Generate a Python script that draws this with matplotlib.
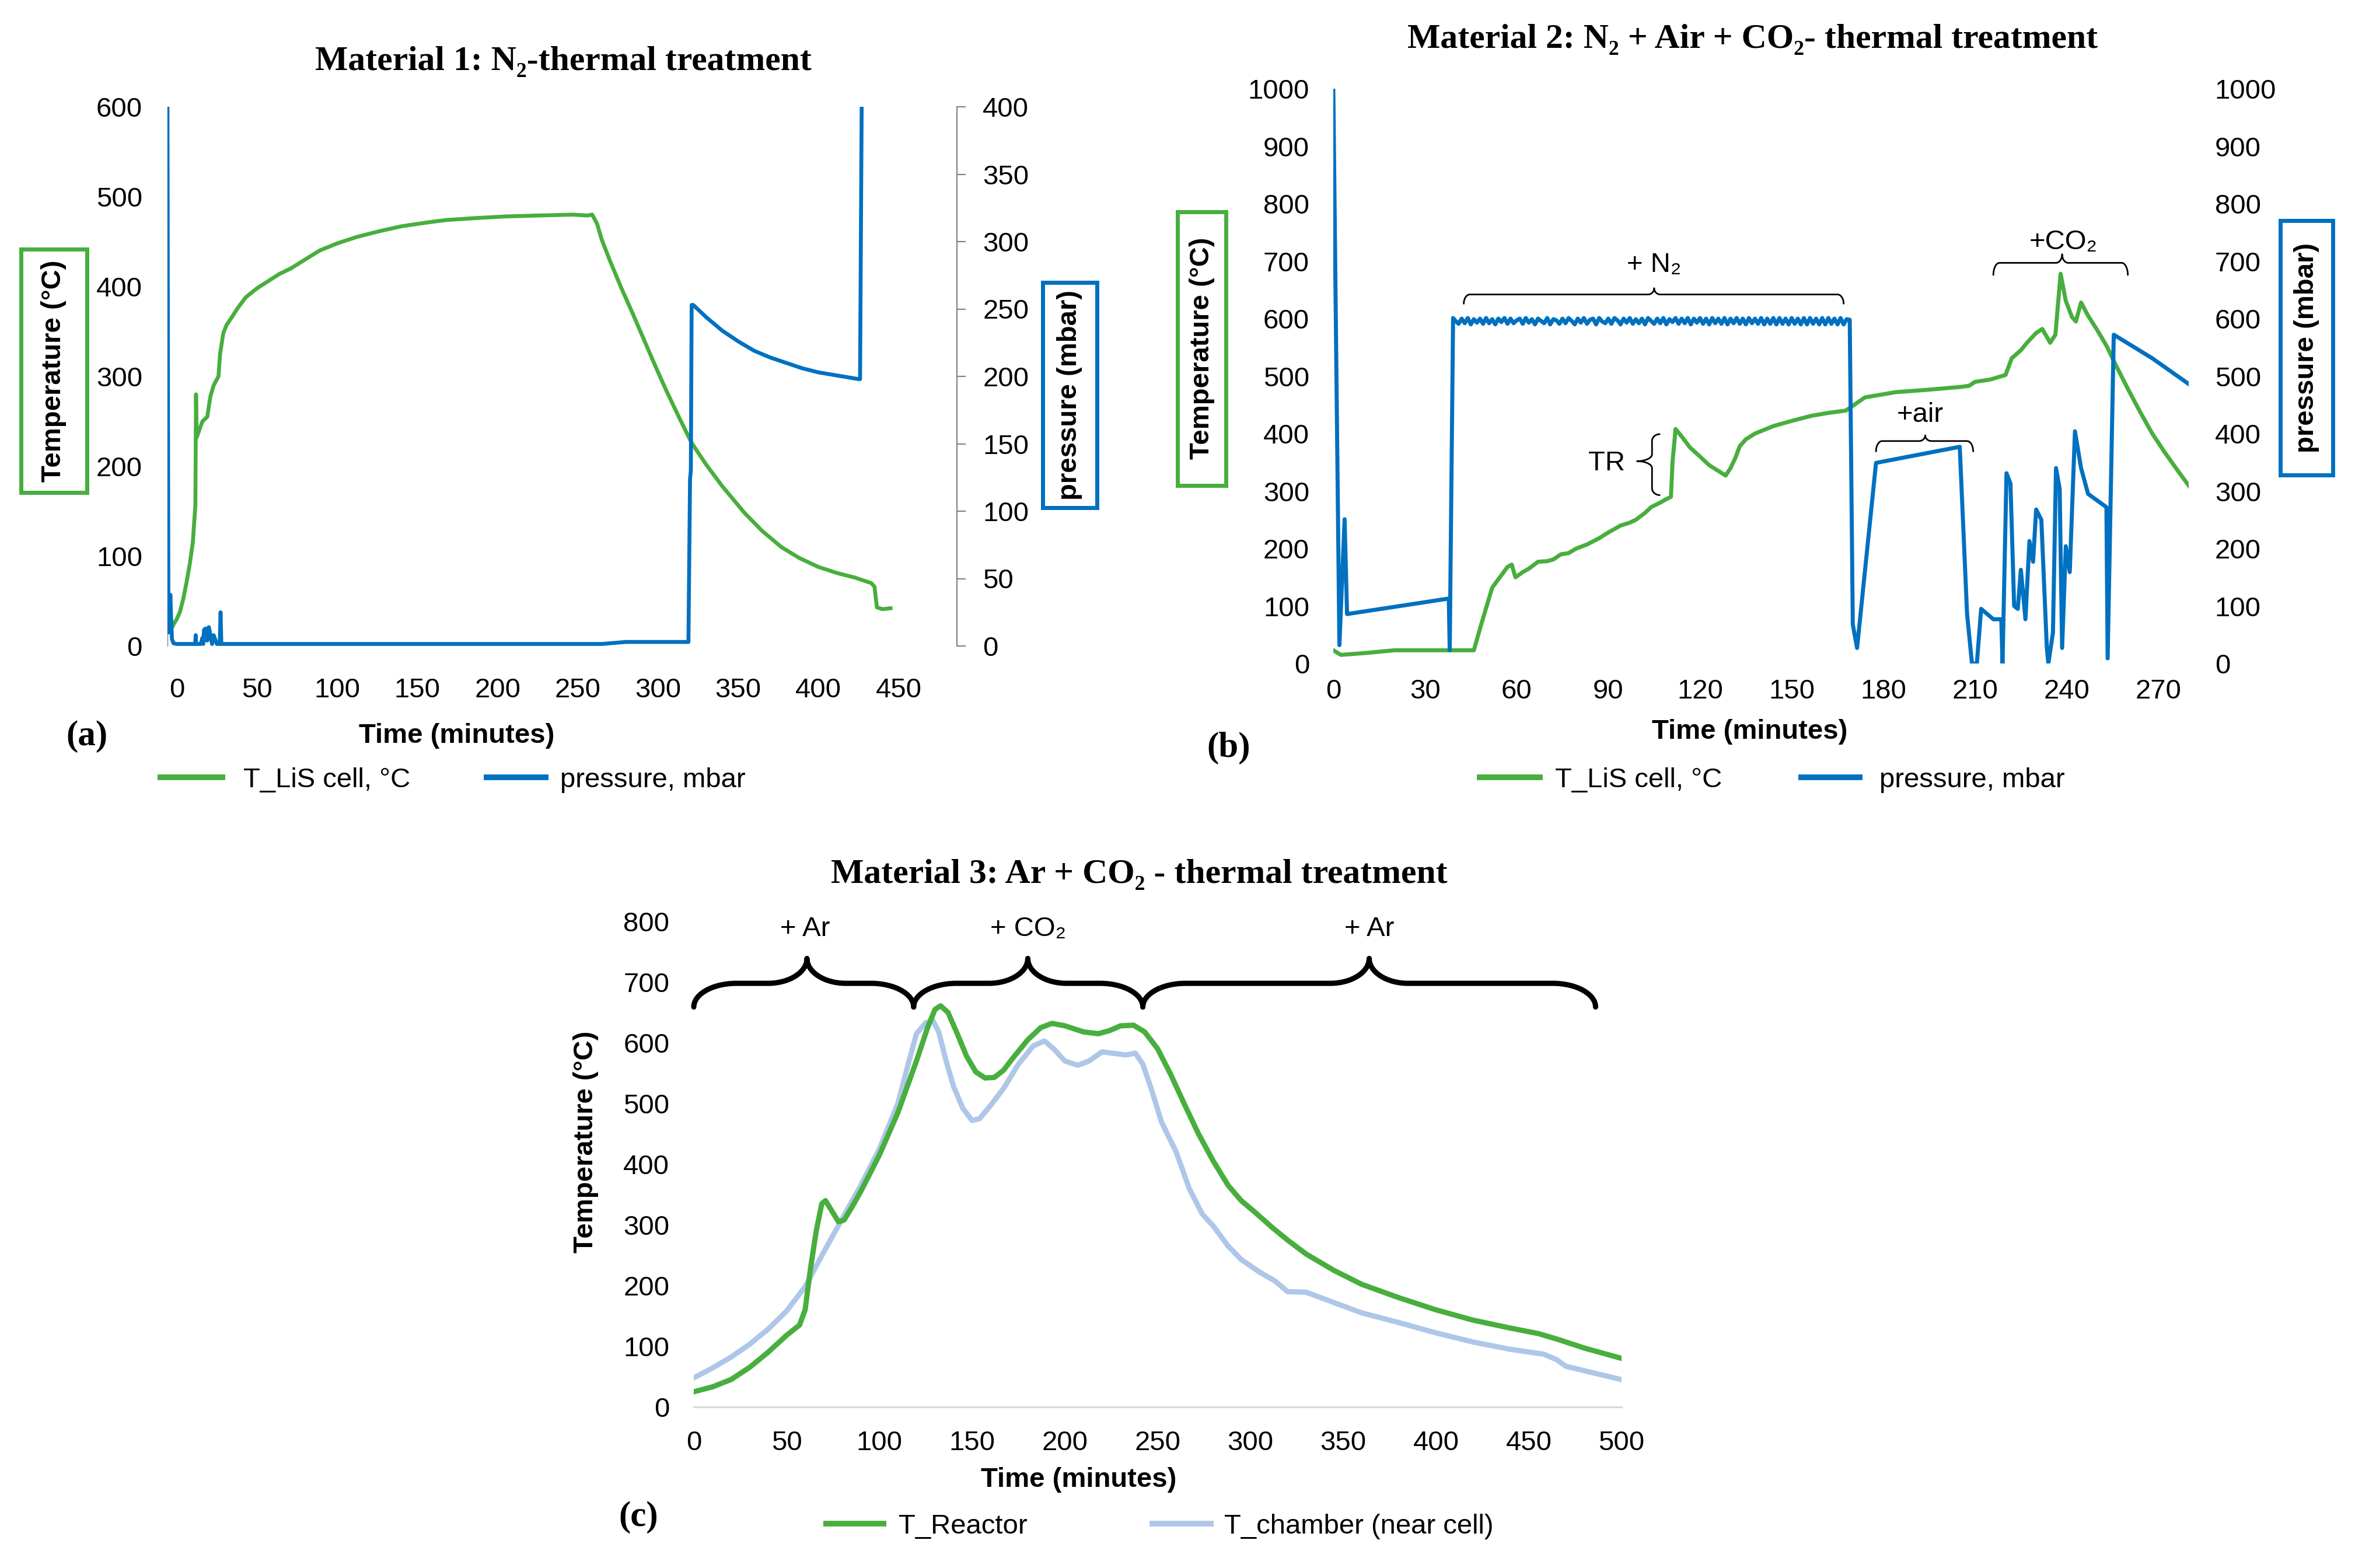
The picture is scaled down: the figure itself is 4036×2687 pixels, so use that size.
import matplotlib
matplotlib.use('Agg')
import matplotlib.pyplot as plt
from matplotlib.path import Path
from matplotlib.patches import PathPatch, Rectangle
from matplotlib.lines import Line2D

# ---------------- data ----------------
# Panel (a): Material 1
a_time_T = [-5.8, -4, -2, 0, 2, 4, 6, 8, 10, 11.6, 12.0, 12.4, 16, 19, 21, 23, 26, 27, 29, 31, 34, 38,
            43, 50, 57, 64, 71, 80, 89, 100, 112, 125, 140, 155, 168, 185, 205, 225, 247, 256, 259,
            262, 265, 270, 277, 284, 291, 298, 305, 313, 321, 330, 340, 354, 365, 377, 388, 400, 412,
            423, 433, 435, 436.5, 440, 445]
a_temp = [24, 17, 24, 30, 38, 52, 70, 90, 115, 157, 280, 232, 250, 255, 278, 290, 300, 325, 348, 357,
          365, 376, 388, 398, 406, 414, 420, 430, 440, 448, 455, 461, 467, 471, 474, 476, 478, 479,
          480, 479, 480, 470, 452, 429, 399, 371, 342, 313, 285, 255, 226, 202, 178, 148, 128, 110,
          98, 88, 81, 76, 70, 66, 43, 41, 42]
a_time_p = [-5.8, -5.5, -5.2, -4.5, -4.0, -3.5, -3.0, -2.0, 0, 5, 11.5, 11.8, 12.1, 15, 16, 16.5, 17,
            18, 19, 20, 21, 22, 23, 25, 26.8, 27.3, 27.8, 30, 60, 100, 150, 200, 250, 265, 280, 300,
            319, 320, 320.5, 321, 322, 330, 340, 350, 360, 370, 380, 390, 400, 410, 420, 425, 426, 427]
a_pres = [400, 200, 10, 12, 38, 20, 5, 2, 1.5, 1.5, 1.5, 8, 1.5, 1.5, 6, 1.5, 12,
          13, 4, 14, 8, 1.5, 8, 1.5, 1.5, 25, 1.5, 1.5, 1.5, 1.5, 1.5, 1.5, 1.5, 1.5, 3, 3,
          3, 124, 130, 253, 253, 244, 234, 226, 219, 214, 210, 206, 203, 201, 199, 198, 198, 400]
a_xticks = [0, 50, 100, 150, 200, 250, 300, 350, 400, 450]
a_yticks_T = [0, 100, 200, 300, 400, 500, 600]
a_yticks_p = [0, 50, 100, 150, 200, 250, 300, 350, 400]

# Panel (b): Material 2
b_time_T = [0, 2.5, 10, 20, 37.8, 46, 48.4, 52, 57, 58.4, 59.6, 62, 64, 67, 70, 72, 74.5, 77, 79.5,
            83, 87, 90, 94, 97, 99, 102, 104, 107, 109, 110.5, 111, 112, 114, 116.7, 120, 123, 126,
            128.4, 130, 131.6, 133, 135, 138, 144, 150, 156.5, 162, 167.7, 171, 174, 184, 194, 205,
            208, 210, 215, 220, 222, 225, 227, 230, 232, 234.6, 236.3, 238, 239.7, 241.7, 243,
            244.7, 247, 250, 253, 256, 260, 264, 268, 272, 276, 280]
b_temp = [23, 15, 18, 23, 23, 23, 68, 132, 168, 172, 150, 159, 165, 177, 178, 181, 190, 192, 200,
          207, 218, 228, 240, 245, 250, 262, 272, 280, 286, 290, 350, 408, 395, 376, 360, 345, 335,
          327, 340, 358, 378, 390, 400, 413, 422, 431, 436, 440, 452, 463, 472, 476, 481,
          483, 490, 494, 502, 531, 545, 558, 575, 582, 558, 572, 678, 631, 603, 595,
          628, 605, 580, 553, 520, 478, 438, 400, 368, 338, 309]
b_time_p = ([0, 2, 3.7, 4.5, 37.8, 38.1, 39.2]
            + [40, 41, 42, 43, 44, 45, 46, 47, 48, 49, 50, 51, 52, 53, 54, 55, 56, 57, 58, 59,
               60, 61, 62, 63, 64, 65, 66, 67, 68, 69, 70, 71, 72, 73, 74, 75, 76, 77, 78, 79,
               80, 81, 82, 83, 84, 85, 86, 87, 88, 89, 90, 91, 92, 93, 94, 95, 96, 97, 98, 99,
               100, 101, 102, 103, 104, 105, 106, 107, 108, 109, 110, 111, 112, 113, 114, 115,
               116, 117, 118, 119,
               120, 121, 122, 123, 124, 125, 126, 127, 128, 129, 130, 131, 132, 133, 134, 135,
               136, 137, 138, 139,
               140, 141, 142, 143, 144, 145, 146, 147, 148, 149, 150, 151, 152, 153, 154, 155,
               156, 157, 158, 159,
               160, 161, 162, 163, 164, 165, 166, 167, 168]
            + [169, 170, 171.4, 177.6, 205, 207.4, 209, 210.6, 212, 216, 218.6, 219, 220.3, 221.6,
               222.8, 224, 225, 226.5, 227.8, 229, 230, 231.7, 233.5, 234, 235.5, 236.5, 237.7,
               238.5, 239.7, 241, 242.7, 244.7, 247, 253, 253.4, 255.4, 268, 280])
b_pres = ([1000, 32, 251, 86, 113, 23, 601]
          + [596, 591, 600, 592, 601, 590, 599, 593, 600, 591, 601, 592, 599, 590, 600, 594, 601,
             591, 600, 592,
             597, 600, 591, 601, 593, 599, 590, 600, 596, 592, 601, 590, 599, 597, 591, 600, 592,
             601, 596, 590,
             600, 593, 601, 591, 598, 600, 590, 601, 595, 592, 600, 591, 601, 597, 590, 600, 593,
             601, 591, 599,
             592, 600, 590, 601, 596, 591, 600, 592, 601, 590, 599, 594, 601, 591, 600, 592, 601,
             590, 600, 593,
             601, 591, 600, 590, 601, 592, 600, 591, 601, 590, 600, 592, 601, 591, 600, 590, 601,
             592, 600, 591,
             601, 590, 600, 591, 601, 590, 601, 591, 600, 590, 601, 591, 600, 590, 601, 590, 601,
             591, 600, 590,
             601, 590, 601, 591, 600, 590, 601, 590, 599]
          + [598, 68, 27, 349, 377, 86, 0, 0, 95, 77, 77, 0, 331, 313,
             100, 95, 163, 77, 213, 177, 268, 250, 27, 0, 54, 340, 304,
             27, 204, 159, 404, 340, 295, 272, 9, 572, 531, 486])
b_xticks = [0, 30, 60, 90, 120, 150, 180, 210, 240, 270]
b_yticks = [0, 100, 200, 300, 400, 500, 600, 700, 800, 900, 1000]

# Panel (c): Material 3
c_time_R = [0, 10, 20, 30, 40, 50, 57, 60, 63, 66, 69, 71, 74, 78, 81, 85, 90, 100, 110, 120, 126,
            130, 133, 137, 142, 147, 152, 157, 162, 167, 172, 180, 187, 193, 200, 210, 218, 224,
            230, 237, 243, 250, 257, 265, 272, 280, 288, 295, 302, 312, 320, 330, 345, 360, 380,
            400, 420, 440, 455, 465, 480, 500]
c_reactor = [25, 33, 45, 65, 90, 118, 135, 160, 230, 290, 335, 340, 325, 305, 308, 328, 355, 415,
             485, 570, 625, 655, 661, 650, 615, 578, 552, 542, 543, 555, 575, 605, 625, 632, 628,
             618, 615, 620, 628, 629, 618, 590, 548, 495, 450, 405, 365, 340, 322, 295, 275, 252,
             225, 202, 180, 160, 143, 130, 121, 112, 97, 80]
c_time_C = [0, 10, 20, 30, 40, 50, 60, 70, 80, 90, 100, 110, 116, 120, 125, 129, 132, 136, 140, 145,
            150, 154, 160, 167, 175, 183, 189, 194, 200, 207, 213, 220, 228, 233, 238, 242, 247,
            252, 260, 267, 274, 280, 288, 295, 305, 313, 320, 330, 345, 360, 380, 400, 420, 440,
            458, 465, 470, 485, 500]
c_chamber = [48, 64, 82, 103, 128, 158, 198, 255, 310, 365, 425, 500, 570, 615, 633, 636, 618, 570,
             528, 492, 472, 475, 497, 525, 565, 595, 603, 590, 570, 563, 570, 585, 582, 580, 583,
             565, 520, 470, 420, 360, 318, 298, 265, 243, 222, 208, 190, 189, 172, 155, 139, 122,
             107, 95, 87, 78, 67, 56, 45]
c_xticks = [0, 50, 100, 150, 200, 250, 300, 350, 400, 450, 500]
c_yticks = [0, 100, 200, 300, 400, 500, 600, 700, 800]

# ---------------- style ----------------
W, H, DPI = 4037, 2687, 100
GREEN = '#48AE3D'
BLUE = '#0070C0'
LIGHT = '#AEC7E8'
GRAY = '#858585'
SANS = ['Liberation Sans', 'DejaVu Sans']
SERIF = ['Liberation Serif', 'DejaVu Serif']
FS = 34
plt.rcParams['font.family'] = SANS

fig = plt.figure(figsize=(W / DPI, H / DPI), dpi=DPI)


def fx(px):
    return px / W


def fy(py):
    return 1 - py / H


def axes_px(left, right, top, bottom):
    return fig.add_axes([fx(left), fy(bottom), (right - left) / W, (bottom - top) / H])


def hide_spines(ax, keep=()):
    for name, sp in ax.spines.items():
        sp.set_visible(name in keep)


def ftext(x, y, s, **kw):
    kw.setdefault('fontsize', FS)
    kw.setdefault('family', SANS)
    return fig.text(fx(x), fy(y), s, **kw)


def box(x0, y0, x1, y1, color):
    fig.add_artist(Rectangle((fx(x0), fy(y1)), (x1 - x0) / W, (y1 - y0) / H,
                             transform=fig.transFigure, fill=False, ec=color, lw=5))


def legend_item(x0, x1, y, color, tx, label):
    fig.add_artist(Line2D([fx(x0), fx(x1)], [fy(y), fy(y)], transform=fig.transFigure,
                          color=color, lw=7, solid_capstyle='butt'))
    ftext(tx, y + 17, label, ha='left', va='baseline')


def brace(ax, a0, a1, am, b_end, b_flat, b_peak, ra, rm, lw, vertical=False):
    k = 0.55
    pts = [
        (a0, b_end),
        (a0, b_end + k * (b_flat - b_end)), (a0 + ra - k * ra, b_flat), (a0 + ra, b_flat),
        (am - rm, b_flat),
        (am - rm + k * rm, b_flat), (am, b_peak - k * (b_peak - b_flat)), (am, b_peak),
        (am, b_peak - k * (b_peak - b_flat)), (am + rm - k * rm, b_flat), (am + rm, b_flat),
        (a1 - ra, b_flat),
        (a1 - ra + k * ra, b_flat), (a1, b_end + k * (b_flat - b_end)), (a1, b_end),
    ]
    codes = ([Path.MOVETO] + [Path.CURVE4] * 3 + [Path.LINETO] + [Path.CURVE4] * 6
             + [Path.LINETO] + [Path.CURVE4] * 3)
    if vertical:
        pts = [(b, a) for a, b in pts]
    ax.add_patch(PathPatch(Path(pts, codes), fill=False, ec='black', lw=lw,
                           capstyle='round', joinstyle='round', clip_on=False, zorder=5))


# ---------------- panel (a) ----------------
ax_a = axes_px(287, 1640, 183, 1107)
ax_a.set_xlim(-5.8, 486.4)
ax_a.set_ylim(0, 600)
ax_a.plot(a_time_T, a_temp, color=GREEN, lw=4.8, solid_joinstyle='round')
ax_a.set_xticks(a_xticks)
ax_a.set_yticks(a_yticks_T)
hide_spines(ax_a, keep=('left',))
ax_a.spines['left'].set_color(GRAY)
ax_a.spines['left'].set_linewidth(1.0)
ax_a.tick_params(axis='y', length=0, pad=31, labelsize=FS)
ax_a.tick_params(axis='x', length=0, pad=39, labelsize=FS)

ax_a2 = ax_a.twinx()
ax_a2.set_ylim(0, 400)
ax_a2.plot(a_time_p, a_pres, color=BLUE, lw=4.8, solid_joinstyle='round')
ax_a2.set_yticks(a_yticks_p)
hide_spines(ax_a2, keep=('right',))
ax_a2.spines['right'].set_color(GRAY)
ax_a2.spines['right'].set_linewidth(1.6)
ax_a2.tick_params(axis='y', length=10.8, width=1.6, color=GRAY, pad=21, labelsize=FS)

ftext(965, 120, 'Material 1: N\u2082-thermal treatment', family=SERIF, fontweight='bold',
      fontsize=43, ha='center', va='baseline')
ftext(92, 636, 'Temperature (°C)', rotation=90, fontweight='bold', ha='center', va='center')
box(36, 427, 149, 844, GREEN)
ftext(1833, 677, 'pressure (mbar)', rotation=90, fontweight='bold', ha='center', va='center')
box(1787, 484, 1880, 870, BLUE)
ftext(783, 1273, 'Time (minutes)', fontweight='bold', ha='center', va='baseline')
ftext(149, 1262, '(a)', family=SERIF, fontweight='bold', fontsize=44, ha='center', va='center')
legend_item(270, 386, 1332, GREEN, 417, 'T_LiS cell, °C')
legend_item(829, 940, 1332, BLUE, 960, 'pressure, mbar')

# ---------------- panel (b) ----------------
ax_b = axes_px(2285, 3751.4, 152, 1137)
ax_b.set_xlim(0, 280)
ax_b.set_ylim(0, 1000)
ax_b.plot(b_time_T, b_temp, color=GREEN, lw=5, solid_joinstyle='round')
ax_b.set_xticks(b_xticks)
ax_b.set_yticks(b_yticks)
hide_spines(ax_b)
ax_b.tick_params(axis='y', length=0, pad=29.5, labelsize=FS)
ax_b.tick_params(axis='x', length=0, pad=19, labelsize=FS)

ax_b2 = ax_b.twinx()
ax_b2.set_ylim(0, 1000)
ax_b2.plot(b_time_p, b_pres, color=BLUE, lw=5, solid_joinstyle='round')
ax_b2.set_yticks(b_yticks)
hide_spines(ax_b2)
ax_b2.tick_params(axis='y', length=0, pad=32, labelsize=FS)

brace(ax_b2, 42.7, 167, 105, 626, 642, 653, 2, 2, 2)
ax_b2.text(105, 681, '+ N\u2082', ha='center', va='baseline', fontsize=FS, family=SANS)
brace(ax_b2, 216, 260, 238.5, 676, 697, 712, 2, 2, 2)
ax_b2.text(239, 721, '+CO\u2082', ha='center', va='baseline', fontsize=FS, family=SANS)
brace(ax_b2, 177.6, 209.4, 193.7, 369, 387, 397, 2, 2, 2)
ax_b2.text(192, 420, '+air', ha='center', va='baseline', fontsize=FS, family=SANS)
brace(ax_b2, 293, 399, 352, 106.8, 104.3, 99.4, 12, 12, 2, vertical=True)
ax_b2.text(89.4, 348, 'TR', ha='center', va='center', fontsize=FS, family=SANS)

ftext(3004, 82, 'Material 2: N\u2082 + Air + CO\u2082- thermal treatment', family=SERIF,
      fontweight='bold', fontsize=43, ha='center', va='baseline')
ftext(2060, 597, 'Temperature (°C)', rotation=90, fontweight='bold', ha='center', va='center')
box(2018, 363, 2101, 832, GREEN)
ftext(3953, 596, 'pressure (mbar)', rotation=90, fontweight='bold', ha='center', va='center')
box(3908, 378, 3998, 814, BLUE)
ftext(2999, 1266, 'Time (minutes)', fontweight='bold', ha='center', va='baseline')
ftext(2106, 1282, '(b)', family=SERIF, fontweight='bold', fontsize=44, ha='center', va='center')
legend_item(2531, 2644, 1332, GREEN, 2665, 'T_LiS cell, °C')
legend_item(3082, 3192, 1332, BLUE, 3221, 'pressure, mbar')

# ---------------- panel (c) ----------------
ax_c = axes_px(1189, 2779, 1579, 2411)
ax_c.set_xlim(0, 500)
ax_c.set_ylim(0, 800)
ax_c.plot(c_time_C, c_chamber, color=LIGHT, lw=6.5, solid_joinstyle='round', zorder=2)
ax_c.plot(c_time_R, c_reactor, color=GREEN, lw=6.5, solid_joinstyle='round', zorder=3)
ax_c.set_xticks(c_xticks)
ax_c.set_yticks(c_yticks)
hide_spines(ax_c, keep=('bottom',))
ax_c.spines['bottom'].set_color('#D9D9D9')
ax_c.spines['bottom'].set_linewidth(2.2)
ax_c.tick_params(axis='y', length=0, pad=30, labelsize=FS)
ax_c.tick_params(axis='x', length=0, pad=29, labelsize=FS)

brace(ax_c, 0, 118.5, 61, 659, 698, 739, 23, 21, 6.5)
brace(ax_c, 118.5, 242, 180, 659, 698, 739, 23, 21, 6.5)
brace(ax_c, 242, 486, 364, 659, 698, 739, 23, 21, 6.5)
ax_c.text(60, 776, '+ Ar', ha='center', va='baseline', fontsize=FS, family=SANS)
ax_c.text(180.3, 776, '+ CO\u2082', ha='center', va='baseline', fontsize=FS, family=SANS)
ax_c.text(364, 776, '+ Ar', ha='center', va='baseline', fontsize=FS, family=SANS)

ftext(1952, 1513, 'Material 3: Ar + CO\u2082 - thermal treatment', family=SERIF,
      fontweight='bold', fontsize=43, ha='center', va='baseline')
ftext(1004, 1957, 'Temperature (°C)', rotation=90, fontweight='bold', ha='center', va='center')
ftext(1849, 2548, 'Time (minutes)', fontweight='bold', ha='center', va='baseline')
ftext(1094, 2600, '(c)', family=SERIF, fontweight='bold', fontsize=44, ha='center', va='center')
legend_item(1411, 1519, 2611, GREEN, 1540, 'T_Reactor')
legend_item(1970, 2080, 2611, LIGHT, 2098, 'T_chamber (near cell)')

fig.savefig('out.png', dpi=DPI, facecolor='white')
